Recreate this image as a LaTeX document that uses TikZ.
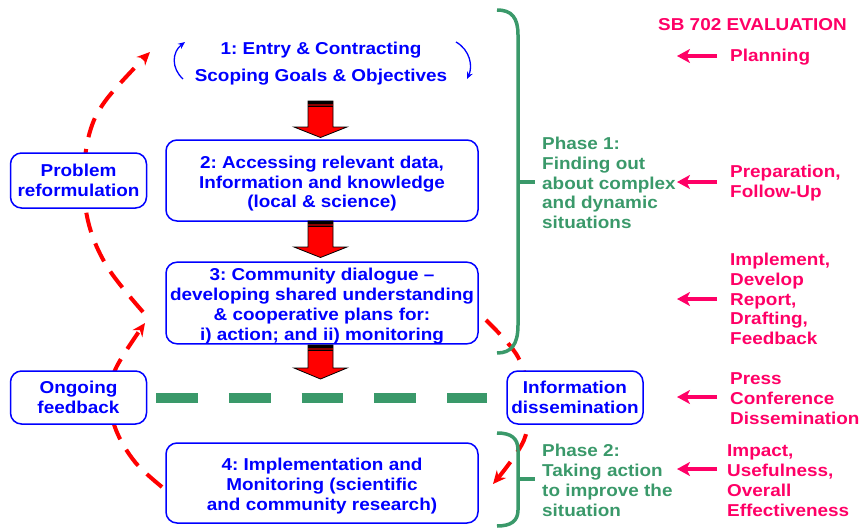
\documentclass[tikz,border=0pt]{standalone}
\usepackage{fontspec}
\setmainfont{Liberation Sans}[FakeStretch=1.1]
\usetikzlibrary{arrows.meta}

\definecolor{bluetxt}{RGB}{0,0,255}
\definecolor{grn}{RGB}{58,153,106}
\definecolor{pnk}{RGB}{255,0,102}
\definecolor{arrowred}{RGB}{255,0,0}

\newcommand\lbl{\frenchspacing\fontsize{17.2}{19.8}\selectfont\bfseries}
% fixed first-line height so the large boxes centre their text alike
\newcommand\firstline{\rule{0pt}{18.6pt}}

% solid red "down" block arrow: shaft top, head base, tip (y values)
\newcommand\downblock[3]{%
  \filldraw[fill=arrowred, draw=black, line width=0.8pt, line join=miter]
    (308,#1) -- (333,#1) -- (333,#2) -- (347,#2) -- (320.5,#3)
    -- (294,#2) -- (308,#2) -- cycle;
  \fill[black] (308,#1) rectangle (333,#1+3);
  \fill[red!55!black] (308,#1+3) rectangle (333,#1+5);
  \draw[black, line width=0.9pt] (308,#1+5.5) -- (333,#1+5.5);
}

\tikzset{
  stagebox/.style={draw=bluetxt, line width=1.5pt, rounded corners=11pt, fill=white,
    text=bluetxt, align=center, font=\lbl, inner sep=0pt},
  plaintext/.style={text=bluetxt, align=center, font=\lbl, inner sep=0pt},
  phasetext/.style={text=grn, align=left, font=\lbl, inner sep=0pt, anchor=west},
  evaltext/.style={text=pnk, align=left, font=\lbl, inner sep=0pt, anchor=west},
  loopcurve/.style={draw=arrowred, line width=4pt, dash pattern=on 20pt off 12pt,
    -{Stealth[length=13pt,width=12pt]}},
  evalarrow/.style={draw=pnk, line width=4pt, -{Stealth[length=13pt,width=14pt,inset=3.5pt]}},
  brace/.style={draw=grn, line width=3.5pt},
  cyclearrow/.style={draw=bluetxt, line width=1.3pt, -{Stealth[length=7pt,width=6pt]}},
}

\begin{document}
\begin{tikzpicture}[x=1pt, y=-1pt]
\useasboundingbox (0,0) rectangle (861,527);

% feedback loops (drawn first, boxes sit on top of them)
\draw[loopcurve] plot[smooth, tension=0.6] coordinates
  {(143,312) (108,268) (89,225) (84,180) (89,135) (106,100) (150,52)};
\draw[loopcurve] plot[smooth, tension=0.6] coordinates
  {(162,487) (135,462) (116,430) (110,398) (116,368) (145,323)};
\draw[loopcurve] plot[smooth, tension=0.6] coordinates
  {(486,320) (518,357) (528,398) (524,440) (493,484)};

% stage 1 (no frame) and its cycle arrows
\node[plaintext] (b1) at (321,63.5) {1: Entry \& Contracting\\[7.2pt]Scoping Goals \& Objectives};
\draw[cyclearrow] (183,79) .. controls (171,68) and (172,52) .. (185,42);
\draw[cyclearrow] (456,42) .. controls (470,50) and (473,66) .. (467,79);

% stage boxes
\node[stagebox, minimum width=312pt, minimum height=81pt] (b2) at (322,180.5)
  {\firstline 2: Accessing relevant data,\\Information and knowledge\\(local \& science)};
\node[stagebox, minimum width=312pt, minimum height=80pt] (b3) at (322,303)
  {\firstline 3: Community dialogue --\\developing shared understanding\\\& cooperative plans for:\\i) action; and ii) monitoring};
\node[stagebox, minimum width=312pt, minimum height=80pt] (b4) at (322,483)
  {\firstline 4: Implementation and\\Monitoring (scientific\\and community research)};

\node[stagebox, minimum width=136pt, minimum height=55pt] (prob) at (78.5,180.5)
  {Problem\\reformulation};
\node[stagebox, minimum width=136pt, minimum height=53pt] (ongo) at (78.5,397.5)
  {Ongoing\\feedback};
\node[stagebox, minimum width=136pt, minimum height=53pt] (info) at (575,397.5)
  {Information\\dissemination};

% block arrows between stages
\downblock{101}{127}{137.5}
\downblock{221}{247}{257.5}
\downblock{345}{368}{379}

% link between feedback and dissemination
\draw[grn, line width=10pt, dash pattern=on 41.7pt off 31pt,
  shorten <=9pt, shorten >=19pt] (ongo.east) -- (info.west);

% phase braces
\draw[brace] (497,10) .. controls (512,10) and (518,18) .. (518,35)
  -- (518,325) .. controls (518,345) and (511,353) .. (497,353);
\draw[brace] (518,182) -- (535,182);
\draw[brace] (497,433) .. controls (511,433) and (518,438) .. (518,450)
  -- (518,510) .. controls (518,521) and (511,526) .. (497,526);
\draw[brace] (518,479) -- (535,479);

\node[phasetext] (ph1) at (542,183)
  {Phase 1:\\Finding out\\about complex\\and dynamic\\situations};
\node[phasetext] (ph2) at (542,480.5)
  {Phase 2:\\Taking action\\to improve the\\situation};

% evaluation column
\node[evaltext] (title) at (658,24.5) {SB 702 EVALUATION};
\node[evaltext] (plan) at (730,57.5) {Planning};
\node[evaltext] (prep) at (730,183) {Preparation,\\Follow-Up};
\node[evaltext] (impl) at (730,299) {Implement,\\Develop\\Report,\\Drafting,\\Feedback};
\node[evaltext] (press) at (730,398.5) {Press\\Conference\\Dissemination};
\node[evaltext] (impact) at (727,480.5) {Impact,\\Usefulness,\\Overall\\Effectiveness};

\coordinate (tplan) at (677,56);
\coordinate (tprep) at (677,182);
\coordinate (timpl) at (677,299);
\coordinate (tpress) at (677,397);
\coordinate (timpact) at (677,469);

\draw[evalarrow] (717,56) coordinate (splan) -- (tplan);
\draw[evalarrow] (717,182) coordinate (sprep) -- (tprep);
\draw[evalarrow] (717,299) coordinate (simpl) -- (timpl);
\draw[evalarrow] (717,397) coordinate (spress) -- (tpress);
\draw[evalarrow] (717,469) coordinate (simpact) -- (timpact);

\end{tikzpicture}
\end{document}
